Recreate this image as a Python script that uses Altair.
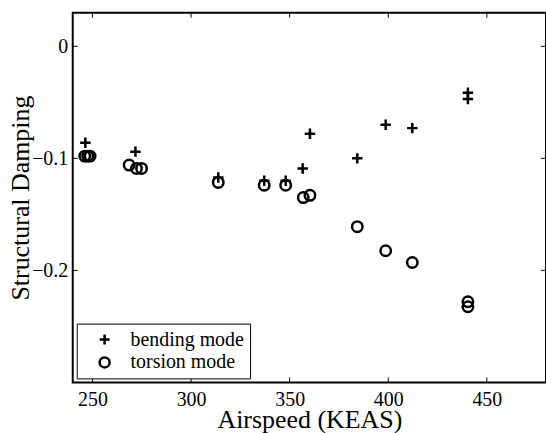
import altair as alt
import pandas as pd

# --- data ---
bend_x = [246.4, 271.8, 313.8, 337.1, 348.0, 356.6, 360.3, 384.3, 398.7, 412.2, 440.4, 440.4]
bend_y = [-0.086, -0.094, -0.117, -0.120, -0.120, -0.109, -0.078, -0.100, -0.070, -0.073, -0.0415, -0.047]
tors_x = [246.1, 247.6, 248.8, 268.6, 272.3, 274.9, 313.8, 337.1, 348.0, 356.9, 360.3, 384.3, 398.7, 412.2, 440.4, 440.4]
tors_y = [-0.098, -0.098, -0.098, -0.106, -0.109, -0.109, -0.1215, -0.124, -0.124, -0.135, -0.133, -0.161, -0.1825, -0.193, -0.228, -0.2325]
series = ["bending mode", "torsion mode"]
x_ticks = [250, 300, 350, 400, 450]
y_ticks = [0, -0.1, -0.2]

W, H = 475, 371
FONT = "Liberation Serif"

df = pd.DataFrame(
    {"airspeed": bend_x + tors_x,
     "damping": bend_y + tors_y,
     "mode": [series[0]] * len(bend_x) + [series[1]] * len(tors_x)}
)
xt = pd.DataFrame({"v": x_ticks})
yt = pd.DataFrame({"v": y_ticks})

xscale = alt.Scale(domain=[240, 480], nice=False, zero=False)
yscale = alt.Scale(domain=[-0.3, 0.03], nice=False, zero=False)

points = alt.Chart(df).mark_point(filled=False, strokeWidth=2.5, size=110, color="black", opacity=1).encode(
    x=alt.X("airspeed:Q", scale=xscale,
            axis=alt.Axis(values=x_ticks, title="Airspeed (KEAS)", ticks=False, domain=False,
                          grid=False, labelPadding=7, titleBaseline="alphabetic", titleY=45)),
    y=alt.Y("damping:Q", scale=yscale,
            axis=alt.Axis(values=y_ticks, format=".1~f", title="Structural Damping", ticks=False,
                          domain=False, grid=False, labelPadding=5,
                          titleBaseline="alphabetic", titleX=-44)),
    shape=alt.Shape("mode:N",
                    scale=alt.Scale(domain=series, range=["M-1,0L1,0M0,-1L0,1", "circle"]),
                    legend=alt.Legend(title=None, orient="bottom-left", offset=4,
                                      strokeColor="black", fillColor="white", padding=6,
                                      labelFont=FONT, labelFontSize=20, labelColor="black",
                                      symbolStrokeColor="black", symbolStrokeWidth=2.5,
                                      symbolSize=100, symbolOffset=12, labelOffset=16,
                                      rowPadding=3)),
)

tl = 5
tick_bottom = alt.Chart(xt).mark_rule(color="black", strokeWidth=1).encode(
    x=alt.X("v:Q", scale=xscale), y=alt.value(H - tl), y2=alt.value(H))
tick_top = alt.Chart(xt).mark_rule(color="black", strokeWidth=1).encode(
    x=alt.X("v:Q", scale=xscale), y=alt.value(0), y2=alt.value(tl))
tick_left = alt.Chart(yt).mark_rule(color="black", strokeWidth=1).encode(
    y=alt.Y("v:Q", scale=yscale), x=alt.value(0), x2=alt.value(tl))
tick_right = alt.Chart(yt).mark_rule(color="black", strokeWidth=1).encode(
    y=alt.Y("v:Q", scale=yscale), x=alt.value(W - tl), x2=alt.value(W))

chart = alt.layer(tick_bottom, tick_top, tick_left, tick_right, points).properties(
    width=W, height=H,
    autosize=alt.AutoSizeParams(type="none"),
    padding={"left": 73, "top": 12, "right": 0, "bottom": 50},
    background="white",
).configure_view(
    stroke="black", strokeWidth=2
).configure_axis(
    labelFont=FONT, labelFontSize=20, labelColor="black",
    titleFont=FONT, titleFontSize=26, titleColor="black", titleFontWeight="normal",
)

chart.save("out.html", embed_options={"renderer": "svg", "actions": False})
